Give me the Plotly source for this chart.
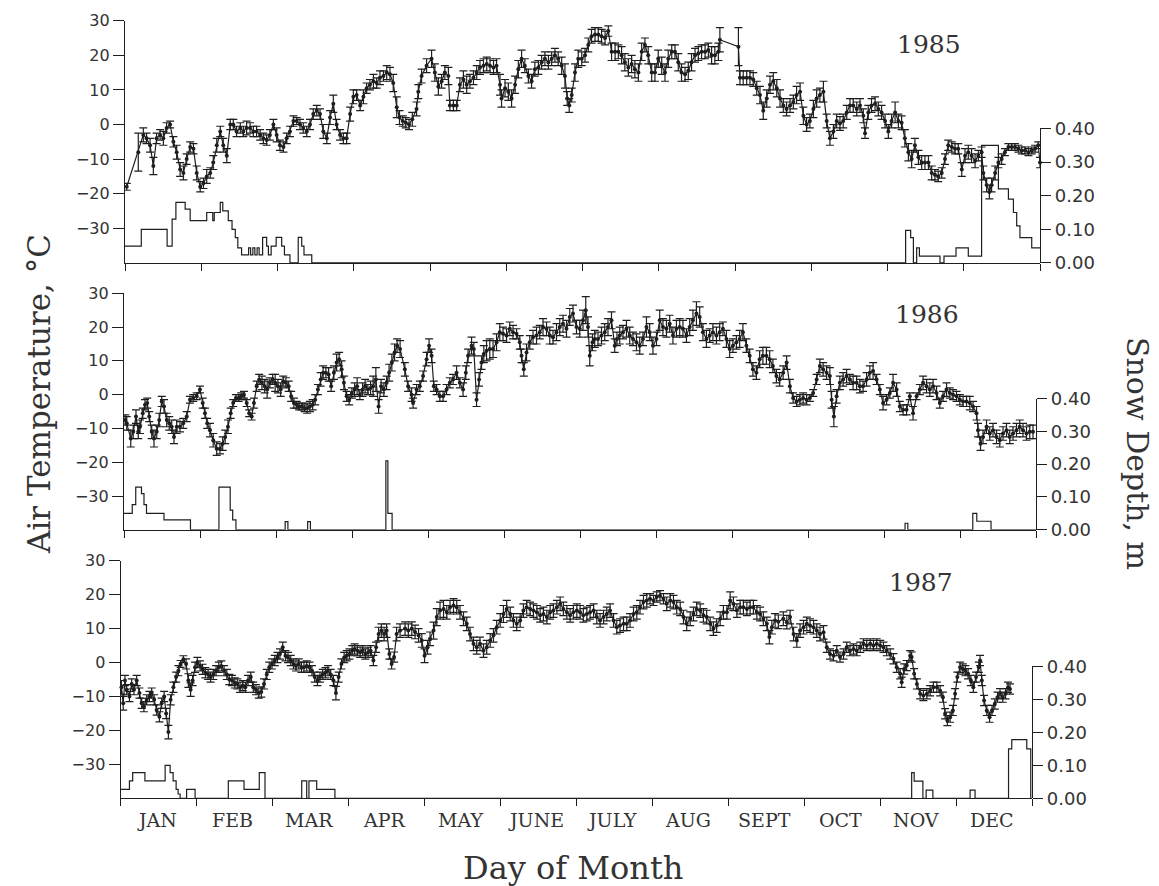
import plotly.graph_objects as go

W, H = 1159, 886
INK = "#1e1e1e"
TXT = "#333333"

MONTHS = ["JAN", "FEB", "MAR", "APR", "MAY", "JUNE",
          "JULY", "AUG", "SEPT", "OCT", "NOV", "DEC"]
YEARS = ["1985", "1986", "1987"]
TEMP_TICKS = [-30, -20, -10, 0, 10, 20, 30]
TEMP_TICK_TEXT = ["\u221230", "\u221220", "\u221210", "0", "10", "20", "30"]
SNOW_TICKS = [0.0, 0.1, 0.2, 0.3, 0.4]
SNOW_TICK_TEXT = ["0.00", "0.10", "0.20", "0.30", "0.40"]

# ---------------- 1985: daily mean air temperature (degC) ----------------
DAY_1985 = [
    0.7, 5.3, 7.3, 8.6, 10, 11.3, 12.6, 14, 15.3, 16.6,
    18, 19.3, 20.6, 22, 23.3, 24.6, 26, 27.3, 28.6, 30,
    31.3, 32.6, 34, 35.2, 36.6, 38, 39.2, 40.6, 42, 43.2,
    44.5, 46, 47.2, 48.5, 49.9, 51.2, 52.5, 53.9, 55.2, 56.5,
    57.8, 59.2, 60.5, 61.8, 63.2, 64.5, 65.8, 67.2, 68.5, 69.8,
    71.1, 72.5, 73.8, 75.1, 76.5, 77.8, 79.1, 80.5, 81.8, 83.1,
    84.4, 85.8, 87.1, 88.4, 89.8, 91.1, 92.4, 93.8, 95.1, 96.4,
    97.7, 99.1, 100.4, 101.7, 103.1, 104.4, 105.7, 107, 108.4, 109.5,
    110.8, 112, 113.3, 114.6, 116.3, 117, 118.3, 120.3, 122.3, 123.6,
    125, 126.3, 127.6, 129, 129.6, 131, 132.3, 133.6, 135, 136.3,
    137.6, 139, 140.3, 141.6, 143, 144.3, 145.6, 147, 148.2, 149.6,
    150.2, 151.6, 152.9, 154.2, 155.6, 156.9, 158.2, 159.5, 160.9, 162.2,
    163.5, 164.9, 166.2, 167.5, 168.9, 170.2, 171.5, 172.8, 174.2, 175.5,
    176.4, 177.2, 178.2, 179.5, 180.8, 182.2, 183.5, 184.8, 186.1, 187.5,
    188.8, 190.1, 191.5, 192.8, 194.1, 195.5, 196.8, 198.1, 199.4, 200.8,
    202.1, 203.4, 204.8, 206.1, 207.4, 208.7, 210.1, 211.4, 212.7, 214.1,
    215.4, 216.7, 218.1, 219.4, 220.7, 222, 223.4, 224.7, 226, 227.4,
    228.7, 230, 231.4, 232.7, 234, 235.3, 236.7, 237.3, 244.7, 245.3,
    246.6, 248, 249.3, 250.6, 252, 253.3, 254.6, 256, 257.3, 258.6,
    260, 261.3, 262.6, 263.9, 265.3, 266.6, 267.9, 269.3, 270.6, 271.9,
    273.2, 274.6, 275.9, 277.2, 278.6, 279.9, 281.2, 282.6, 283.9, 285.2,
    286.5, 287.9, 289.2, 290.5, 291.9, 293.2, 294.5, 295.2, 296.5, 297.8,
    299.2, 300.5, 301.8, 303.2, 304.5, 305.8, 307.2, 308.5, 309.8, 311.1,
    312.5, 313.8, 315.1, 316.5, 317.8, 319.1, 320.5, 321.8, 323.1, 324.4,
    325.8, 327.1, 328.4, 329.8, 331.1, 332.4, 333.8, 335.1, 336.4, 337.7,
    339.1, 340.4, 341.7, 342.4, 343.7, 344.8, 345.7, 347.1, 348.4, 349.7,
    351, 352.4, 353.7, 355, 356.4, 357.7, 359, 360.4, 361.7, 363,
    364.3, 365,
]
TEMP_1985 = [
    -18, -8, -3, -4, -6, -12, -4, -3, -4, -1,
    0, -5, -8, -13, -14, -10, -6.5, -7, -14, -18,
    -17, -15, -14, -11, -6, -2, -6, -9, 0, 0,
    -2, -1, -2, -1, -1, -2, -2, -3, -4, -4.5,
    -3, 0, -3, -6, -6.5, -4, -2, 1, 1, 0,
    -1, -2, 0, 3, 4, 3, -2, -4, 2, 6,
    0, -3, -4, -4, 3, 8, 8.5, 5.5, 8, 10.5,
    11.5, 12.5, 12, 13.5, 14, 15, 14.5, 12, 5, 2,
    1, 0.5, 0, 1.5, 4.5, 9.5, 14, 17, 19, 15,
    11, 12.5, 15, 14, 5.5, 5.5, 5.5, 11.5, 13, 11.5,
    12.5, 13.5, 15, 16.5, 17, 17.5, 17, 16.5, 17, 11.5,
    7.5, 10.5, 9.5, 7.5, 11.5, 16, 19, 17, 14, 12.5,
    16, 16.5, 18, 19, 18, 19, 20, 19, 17, 14,
    7.5, 5.5, 8.5, 15, 19, 19, 20, 23, 25.5, 26,
    26, 25.5, 25, 27, 21, 21, 21, 20, 18, 16.5,
    17.5, 16, 15, 21, 23, 20, 15, 15, 19, 17,
    15, 19, 21, 21, 18, 15, 14.5, 15.5, 18, 20,
    20.5, 21, 21, 21.5, 20, 20, 21, 24.5, 22.5, 13.5,
    13.5, 13.5, 13.5, 13, 10.5, 8.5, 4, 7.5, 11.5, 12.5,
    10.5, 7.5, 5.5, 4.5, 5.5, 6.5, 8.5, 9.5, 2.5, 0,
    1, 4.5, 7.5, 8.5, 9.5, 1, -4, -2, 1, 0.3,
    1, 3.5, 5.5, 5.5, 4.5, 5.5, 2.5, -2.5, 3.5, 5.5,
    6, 4.5, 3.5, 1, -2, 1, 3.5, 1, 0.5, -4,
    -8, -10, -6, -9.5, -11, -11, -11, -14, -14.5, -15,
    -14, -10, -6, -6.5, -7, -7, -13, -9, -8, -9,
    -10.5, -9, -8, -14, -17.5, -19.5, -17.5, -14, -11, -10,
    -8, -6.5, -6.5, -6.5, -7, -7.5, -7.5, -8, -7.5, -7,
    -6, -11,
]
ERR_1985 = [
    1, 5.5, 2, 1.5, 2, 2.5, 1.5, 1.5, 2, 1.5,
    1, 1.5, 2, 2, 2, 1.5, 1.5, 1.5, 2, 1.5,
    1.5, 2, 1.5, 2, 2, 1.5, 2, 2, 1.5, 1.5,
    1.5, 1.5, 1.5, 2, 1.5, 1.5, 1.5, 1.5, 1.5, 1.5,
    1.5, 1.5, 2, 1.5, 1.5, 1.5, 1.5, 1.5, 1, 1.5,
    1.5, 1.5, 1.5, 1.5, 1.5, 1.5, 2, 1.5, 2, 2.5,
    1.5, 1.5, 1.5, 1.5, 2, 2, 1.5, 1.5, 2, 1.5,
    1.5, 2, 1.5, 2, 1.5, 2, 2, 2.5, 3, 2,
    1.5, 1.5, 1.5, 2, 2, 2, 2, 2, 2.5, 2.5,
    2.5, 2, 2, 2.5, 1.5, 1.5, 1.5, 2, 2.5, 2.5,
    2, 2, 2, 2, 2, 2, 2, 2, 2, 3,
    2.5, 2.5, 2.5, 2.5, 2.5, 2.5, 2.5, 2, 2, 2,
    2, 2, 2, 2, 2, 2, 2, 2, 2.5, 3.5,
    2, 2, 2, 2.5, 2.5, 2, 2, 2, 2, 2,
    2, 2, 2, 1.5, 2.5, 2.5, 2, 2.5, 2.5, 2.5,
    2.5, 2.5, 2.5, 2.5, 2, 2.5, 2.5, 2.5, 2.5, 2.5,
    2.5, 2.5, 2, 2, 2.5, 2.5, 2, 2.5, 2.5, 2,
    2, 2, 2, 2, 2.5, 2.5, 2.5, 3.5, 5.5, 2,
    2, 2, 2, 2, 2, 2.5, 2.5, 2.5, 2.5, 2.5,
    2.5, 2.5, 2, 2, 2, 2, 2.5, 2.5, 2.5, 2,
    2, 2.5, 2.5, 2, 3, 2, 2, 2, 2, 2,
    2, 2, 2, 2, 2, 2, 2, 1.5, 2, 2,
    2, 2, 2, 2, 2, 2, 3, 2, 2, 2.5,
    2.5, 2.5, 2, 2, 2, 2, 2, 2, 1.5, 1.5,
    1.5, 1.5, 1.5, 1.5, 1.5, 1.5, 2, 2, 2, 2,
    2, 1.5, 1.5, 2, 2, 2, 2, 2, 1.5, 1.5,
    1, 1, 1, 1, 1, 1, 1, 1, 1, 1,
    1, 1.5,
]
# snow depth (m), step changes: day on which each depth starts
SNOW_DAY_1985 = [
    0, 6.5, 16.8, 18.8, 20.3, 24, 26, 32.6, 35, 35.6,
    38, 39, 41.2, 42.7, 44, 45, 46.5, 49.3, 50.1, 51.0,
    51.8, 52.7, 53.5, 54.9, 56.5, 57.2, 58.3, 60.3, 62.5, 63.6,
    65.8, 69.1, 70.5, 71.4, 74.5, 311.4, 313.4, 314.5, 315.8, 316.9,
    325.1, 326.7, 331.5, 336.4, 341.7, 348.4, 352.4, 354.4, 355.7, 357,
    361.7, 365,
]
SNOW_1985 = [
    0.05, 0.10, 0.05, 0.13, 0.18, 0.16, 0.126, 0.15, 0.126, 0.15,
    0.18, 0.155, 0.126, 0.10, 0.075, 0.045, 0.024, 0.045, 0.024, 0.045,
    0.024, 0.045, 0.024, 0.076, 0.05, 0.024, 0.05, 0.076, 0.05, 0.024,
    0.0, 0.076, 0.05, 0.024, 0.0, 0.097, 0.075, 0.0, 0.045, 0.02,
    0.0, 0.02, 0.045, 0.02, 0.35, 0.22, 0.19, 0.15, 0.11, 0.075,
    0.045, 0.045,
]

# ---------------- 1986 ----------------
DAY_1986 = [
    0.5, 1.1, 2.7, 3.7, 4.8, 5.7, 6.4, 7.5, 8.4, 9.3,
    10.1, 11.1, 12, 13.1, 14.1, 15.1, 16, 17.1, 18.1, 19.1,
    20, 21.1, 22.4, 23.7, 25.1, 26.4, 27.7, 29.1, 30.4, 31.5,
    32.4, 33.3, 34.4, 35.7, 37.1, 38.4, 39.5, 40.5, 41.6, 42.7,
    43.7, 44.8, 45.9, 46.9, 48, 49.1, 50.1, 51.1, 52, 53.1,
    54.1, 55.2, 56.3, 57.3, 58.4, 59.5, 60.5, 61.6, 62.7, 63.7,
    64.8, 65.9, 66.9, 68, 69.1, 70.1, 71.2, 72.3, 73.3, 74.4,
    75.5, 76.5, 77.6, 78.7, 79.7, 80.8, 81.9, 82.9, 84, 85.1,
    86.1, 87.1, 88, 89.1, 90.1, 91.2, 92.3, 93.3, 94.4, 95.5,
    96.5, 97.6, 98.7, 99.7, 100.8, 101.9, 102.9, 104, 105.1, 106.1,
    107.2, 108.3, 109.3, 110.5, 112.4, 113.7, 115.1, 115.7, 117.1, 118.4,
    119.7, 121.1, 122.1, 123.1, 124, 125.1, 126.4, 127.7, 129.1, 130.4,
    131.7, 133.1, 134.4, 135.7, 136.8, 137.7, 139.1, 140, 141.1, 142.1,
    143.1, 144, 145.1, 146.4, 147.7, 149.1, 150.4, 151.7, 153.1, 154.4,
    155.7, 157.1, 158.4, 159.1, 160, 161.1, 162.4, 163.7, 165.1, 166.4,
    167.7, 169.1, 170.4, 171.7, 173.1, 174.4, 175.7, 177.1, 178.4, 179.7,
    181.1, 182.4, 183.7, 184.8, 185.7, 186.4, 187.5, 188.4, 189.7, 191.1,
    192.4, 193.7, 195.1, 196.4, 197.3, 198.4, 199.7, 201.1, 202.4, 203.7,
    205.1, 206.4, 207.7, 209.1, 210.4, 211.7, 213.1, 214.4, 215.7, 217.1,
    218.4, 219.7, 221.1, 222.4, 223.7, 225.1, 226.4, 227.7, 229.1, 230.4,
    231.7, 233.1, 234.4, 235.7, 237.1, 238.4, 239.7, 241.1, 242.4, 243.7,
    245.1, 246.4, 247.7, 249.1, 250.4, 251.7, 253.1, 254.4, 255.7, 257.1,
    258.4, 259.7, 261.1, 262.4, 263.8, 265.2, 266.5, 267.8, 269.2, 270.5,
    271.8, 273.2, 274.5, 275.8, 277.2, 278.5, 279.8, 281.2, 282.5, 283.2,
    284.1, 285.2, 286.5, 287.8, 289.2, 290.5, 291.8, 293.2, 294.5, 295.8,
    297.2, 298.5, 299.8, 301.2, 302.5, 303.8, 305.2, 306.5, 307.8, 309.2,
    310.5, 311.8, 313.2, 314.5, 315.8, 317.2, 318.5, 319.8, 321.2, 322.5,
    323.8, 325.2, 326.5, 327.8, 329.2, 330.5, 331.8, 333.2, 334.5, 335.8,
    337.2, 338.5, 339.8, 341.2, 341.8, 342.8, 343.8, 345.2, 346.5, 347.8,
    349.2, 350.5, 351.8, 353.2, 354.5, 355.8, 357.2, 358.5, 359.8, 361.2,
    362.5, 363.8,
]
TEMP_1986 = [
    -7.5, -8.5, -13, -11, -6.5, -11, -9.5, -5.5, -3, -2.5,
    -6.5, -11, -13, -11, -7.5, -2, -3.5, -7.5, -8.5, -9.5,
    -12.5, -9.5, -9.5, -8.5, -6.5, -1.5, -1, -0.5, 1.5, -2.5,
    -5.5, -8.5, -10.5, -13.5, -16, -16, -14.5, -12.5, -9.5, -5.5,
    -2.5, -1, -1, -0.5, 0, -2.5, -5.5, -6.5, -2.5, 2.5,
    4.5, 3.5, 2.5, 1.5, 3.5, 4.5, 3.5, 2.5, 1.5, 4,
    3.5, 2.5, -0.5, -2.5, -3, -3.5, -3.5, -4, -4, -3.5,
    -3, -1.5, 1.5, 4.5, 6.5, 6.5, 6, 2.5, 6.5, 9.5,
    10.5, 7.5, 3.5, -0.5, -1.5, 0.5, 1.5, 2.5, 0, 1.5,
    2.5, 1.5, 2, 2.5, 4.5, -3.5, 2.5, 1.5, 3.5, 6.5,
    9.5, 12.5, 14.5, 13.5, 7.5, 2.5, 0, -2.5, 1.5, 2.5,
    5.5, 10.5, 14.5, 11.5, 2.5, 1.5, -0.5, -0.5, 1.5, 3.5,
    4.5, 6.5, 3.5, 1.5, 6.5, 11.5, 14.5, 13.5, -1.5, 4.5,
    9.5, 12, 13, 13.5, 13.5, 15.5, 18.5, 18, 17.5, 19.5,
    18.5, 18, 15.5, 11.5, 7.5, 12.5, 15.5, 17, 17.5, 18.5,
    20, 19.5, 17.5, 17, 18.5, 20, 21, 19.5, 23, 24,
    20, 19.5, 22, 25, 20, 11.5, 15.5, 16.5, 16.5, 17.5,
    18.5, 20, 22, 14.5, 16.5, 17.5, 18.5, 19.5, 17.5, 16.5,
    15.5, 14.5, 16.5, 20, 18.5, 14.5, 16.5, 22, 20, 19.5,
    21, 17.5, 19.5, 20, 19.5, 17.5, 20, 22, 24, 23,
    18.5, 16.5, 17.5, 18.5, 17.5, 18.5, 19.5, 16.5, 13.5, 14.5,
    15.5, 16.5, 18.5, 14.5, 11.5, 7.5, 6.5, 10.5, 11.5, 11.5,
    10.5, 8.5, 5.5, 4.5, 6.5, 9.5, 2.5, -1, -2, -1.5,
    -1, -1.5, -1, 0.5, 4.5, 8.5, 7.5, 6.5, 5.5, -1.5,
    -6.5, -0.5, 3.5, 4.5, 5.5, 4.5, 3.5, 3.5, 2.5, 2.5,
    4.5, 6.5, 7, 4.5, 1.5, -2.5, -1.5, 0.5, 3.5, 1.5,
    -3.5, -4.5, -4.5, -0.5, -5.5, -0.5, 1.5, 3.5, 2.5, 1.5,
    2.5, 0.5, -2.5, -0.5, 1.5, 0.5, 0, -0.5, -1.5, -2,
    -2, -2.5, -3.5, -5.5, -10.5, -14.5, -12.5, -9.5, -11.5, -10.5,
    -12.5, -13.5, -11.5, -10.5, -12.5, -11.5, -10.5, -9.5, -10.5, -11.5,
    -11, -11,
]
ERR_1986 = [
    1.5, 2, 2.5, 2, 2, 2, 2, 1.5, 1.5, 1.5,
    1.5, 2, 2.5, 2, 2, 1.5, 2, 2, 2, 2,
    2, 2, 1.5, 1.5, 1.5, 1, 1, 1, 1, 1.5,
    1.5, 1.5, 2, 2, 2, 1.5, 2, 2, 2, 1.5,
    1, 1, 1, 1, 1, 1, 1, 1, 1.5, 1.5,
    1.5, 2, 2, 2.5, 1.5, 1.5, 2.5, 2, 2, 1.5,
    1.5, 1.5, 1.5, 1.5, 1, 1, 1, 1, 1.5, 1.5,
    1.5, 1.5, 1.5, 2, 2, 1.5, 2, 1.5, 2, 2.5,
    2, 2.5, 2, 1.5, 1.5, 1.5, 2, 2.5, 1.5, 2,
    2, 1.5, 2, 3, 3.5, 2, 2, 2, 2, 2.5,
    2.5, 2.5, 2, 2.5, 2, 1.5, 2, 1.5, 1.5, 1.5,
    1.5, 2, 2, 2, 1.5, 1.5, 1.5, 1.5, 1.5, 1.5,
    1.5, 2, 1.5, 2, 2, 2, 2.5, 2, 2, 2,
    2, 2.5, 3, 3, 2.5, 2.5, 2.5, 2, 2, 2,
    2, 1.5, 2, 2, 2, 2.5, 2, 2, 2.5, 2,
    2.5, 2, 2.5, 2, 2.5, 2.5, 2.5, 2.5, 2.5, 2.5,
    2, 2.5, 3, 4, 3, 3, 2.5, 2.5, 2, 2.5,
    2.5, 2.5, 2.5, 2, 2, 2.5, 2, 2.5, 2.5, 2,
    2.5, 2.5, 2, 3, 2.5, 2.5, 2, 3, 2.5, 2.5,
    2.5, 2.5, 2.5, 2.5, 2.5, 2, 2.5, 3, 3.5, 3,
    2.5, 2.5, 2, 2.5, 2.5, 2.5, 2, 2.5, 2.5, 2,
    2, 2.5, 2.5, 2, 2, 2, 2, 2.5, 2.5, 2.5,
    2.5, 2, 2, 2, 2, 2, 2, 1.5, 1.5, 1.5,
    1.5, 1.5, 1, 1, 1.5, 2, 2, 2, 2.5, 2.5,
    3, 2, 2, 2, 2, 1.5, 2, 2, 2, 1.5,
    2, 2, 2.5, 1.5, 1.5, 2, 1.5, 1.5, 2.5, 2,
    1.5, 1.5, 1.5, 1, 2, 1, 1.5, 2, 2, 2,
    2, 2, 1.5, 1.5, 2, 1.5, 1.5, 1.5, 1.5, 1.5,
    1.5, 2, 1.5, 2, 2, 2, 2, 2, 2, 2,
    2, 2, 2, 2, 2, 2, 2, 2, 2, 2,
    2, 2,
]
SNOW_DAY_1986 = [
    0, 3.3, 4.7, 7, 8, 9, 16, 26.6, 38, 42.5,
    43.5, 44.8, 64.5, 65.6, 73.5, 74.6, 104.8, 105.6, 107.3, 312.6,
    313.7, 339.7, 341.3, 347, 365,
]
SNOW_1986 = [
    0.05, 0.077, 0.13, 0.11, 0.077, 0.05, 0.03, 0.0, 0.13, 0.06,
    0.03, 0.0, 0.025, 0.0, 0.025, 0.0, 0.21, 0.05, 0.0, 0.02,
    0.0, 0.05, 0.026, 0.0, 0.0,
]

# ---------------- 1987 ----------------
DAY_1987 = [
    0.3, 1.0, 1.7, 2.4, 3.5, 4.4, 5.3, 6.4, 7.5, 8.4,
    9.3, 10.4, 11.5, 12.4, 13.4, 14.4, 15.5, 16.4, 17.4, 18.2,
    19.1, 20, 21.1, 22.2, 23.1, 24, 25.1, 26.2, 27.1, 28,
    28.8, 29.8, 30.7, 31.8, 32.8, 33.9, 35, 36, 37.1, 38.2,
    39.3, 40.3, 41.4, 42.5, 43.5, 44.6, 45.7, 46.7, 47.8, 48.9,
    49.9, 51, 52.1, 53.1, 54.2, 55.3, 56.3, 57.4, 58.5, 59.5,
    60.6, 61.7, 62.8, 63.8, 64.9, 66, 67, 68.1, 69.2, 70.2,
    71.3, 72.4, 73.4, 74.5, 75.6, 76.6, 77.7, 78.8, 79.8, 80.9,
    82, 83, 84.1, 85.2, 86.2, 87.3, 88.4, 89.5, 90.5, 91.6,
    92.7, 93.7, 94.8, 95.9, 96.9, 98, 99.1, 100.1, 101.2, 102.3,
    103.3, 104.4, 105.5, 106.5, 107.6, 108.5, 109.5, 110.5, 111.9, 113.9,
    115.2, 116.6, 117.9, 119.3, 120.6, 121.7, 122.9, 123.9, 125.3, 126.6,
    127.9, 129.3, 130.6, 131.9, 133.3, 134.6, 135.9, 137.3, 138.6, 139.9,
    141.3, 142.6, 143.9, 145.3, 146.6, 148, 149.3, 150.6, 152, 153.3,
    154.6, 156, 157.3, 158.6, 160, 161.3, 162.6, 164, 165.3, 166.7,
    168, 169.3, 170.7, 172, 173.3, 174.7, 176, 177.3, 178.7, 180,
    181.3, 182.7, 184, 185.3, 186.7, 188, 189.4, 190.7, 192, 193.4,
    194.7, 196, 197.4, 198.7, 200, 201.4, 202.7, 204, 205.4, 206.7,
    208, 209.4, 210.7, 212, 213.4, 214.7, 216, 217.4, 218.7, 220.1,
    221.4, 222.7, 224.1, 225.4, 226.7, 228.1, 229.4, 230.7, 232.1, 233.4,
    234.7, 236.1, 237.4, 238.7, 240.1, 241.4, 242.8, 244.1, 245.4, 246.8,
    248.1, 249.4, 250.8, 252.1, 253.4, 254.8, 256.1, 257.4, 258.8, 259.8,
    260.8, 262.1, 263.4, 265.4, 266.8, 268.1, 269.5, 270.8, 272.1, 273.5,
    274.8, 276.1, 277.5, 278.8, 280.1, 281.5, 282.8, 284.1, 285.5, 286.8,
    288.1, 289.5, 290.8, 292.1, 293.5, 294.8, 296.2, 297.5, 298.8, 300.2,
    301.5, 302.8, 304.2, 305.5, 306.8, 308.2, 309.5, 310.8, 312.2, 312.8,
    313.8, 314.8, 316.2, 316.8, 317.8, 318.9, 320.2, 321.5, 322.9, 324.2,
    325.5, 326.9, 328.2, 329.3, 330.2, 331.1, 332.2, 333.3, 334.2, 335.1,
    336.2, 337.3, 338.3, 339.4, 340.5, 341.5, 342.6, 343.7, 344.2, 344.9,
    345.8, 346.9, 348, 349, 350.1, 351.2, 352.2, 353.3, 354.4, 355.4,
    356.2,
]
TEMP_1987 = [
    -7.3, -12, -5.3, -8, -10, -6.3, -8, -5.3, -9, -12,
    -13, -11, -10, -9, -11, -14, -16, -12, -10, -15,
    -20.5, -11, -7.3, -4.3, -2.4, -0.4, 1, -0.4, -5.3, -8,
    -5.3, -1.4, 0, -1, -2, -3, -3.5, -4.3, -3.5, -2.4,
    -1.4, -1, -2.4, -3.5, -5, -5.3, -6, -6.3, -7.3, -6.8,
    -7.3, -5.3, -4.3, -7.3, -8, -9, -8.7, -6.3, -3.5, -1.4,
    -0.4, 0.6, 1.5, 2.5, 4.5, 2, 1.5, 0.6, -0.4, -1,
    -0.4, -1.4, -1.4, -1, -1.4, -2.4, -4.3, -5.3, -4.3, -3.5,
    -3, -2.4, -3.5, -5.3, -9, -4.3, -0.4, 1.5, 2, 2.5,
    3.5, 4, 3.5, 3, 3.5, 2.5, 3, 3.5, 0.6, 4.5,
    8.4, 9.4, 8.4, 9.4, 2.5, -0.4, 1.6, 8.4, 9.4, 10,
    9.4, 10, 9, 8, 6.5, 2, 4.5, 7, 9.4, 13.4,
    15.3, 15.8, 14.8, 16.3, 16.8, 16.3, 14.8, 12.9, 11.4, 8.4,
    5.5, 4.5, 5.5, 3.5, 4.5, 6.5, 8, 10.4, 12.4, 14.3,
    15.8, 14.3, 12.4, 11.4, 12.4, 15.3, 16.3, 15.8, 15.3, 14.8,
    13.9, 14.3, 13.4, 14.8, 15.3, 16.3, 17.3, 15.8, 14.8, 13.9,
    14.8, 15.3, 14.8, 13.9, 14.3, 14.8, 15.3, 13.4, 12.4, 13.4,
    14.3, 15.3, 12.4, 10.4, 10.9, 11.4, 11.4, 12.4, 14.3, 14.8,
    16.3, 17.8, 18.3, 18.8, 18.3, 19.3, 19.7, 18.8, 17.3, 18.3,
    17.8, 16.3, 15.8, 13.4, 11.4, 12.9, 14.3, 15.8, 15.3, 13.9,
    13.4, 11.4, 10, 10.9, 12.9, 14.8, 14.8, 18.3, 17.3, 15.3,
    16.3, 16.3, 15.8, 16.3, 16.3, 14.8, 14.3, 12.9, 11.4, 7.5,
    10.4, 12.4, 12, 12.9, 11.9, 13.4, 8.4, 6.5, 9.4, 10.4,
    11.4, 10.9, 10.4, 9.4, 8.4, 8.9, 4.5, 2.5, 2, 3.5,
    1.6, 2.5, 4.5, 3.5, 4, 3.5, 4.5, 5.5, 5, 5.5,
    5, 5.5, 5, 4.5, 3.5, 2.5, 1.1, -1.4, -3.3, -5.8,
    -1.9, -0.9, 2, 1.6, -3.3, -6.3, -9.2, -9.7, -9.2, -8.3,
    -7.3, -7.3, -8.3, -10.2, -15.1, -17.1, -16.1, -14.1, -9.2, -4.3,
    -1.4, -1.9, -2.4, -3.3, -5.3, -7.3, -4.3, -1.4, 0.6, -5.3,
    -11.2, -14.1, -16.1, -14.1, -12.2, -10.2, -9.2, -10.2, -9.2, -7.3,
    -7.8,
]
ERR_1987 = [
    2, 2, 1.5, 1.5, 1.5, 1.5, 1.5, 1.5, 1.5, 1.5,
    1.5, 1.5, 1.5, 1.5, 1.5, 1.5, 1.5, 1.5, 1.5, 1.5,
    2, 1.5, 1.5, 1.5, 1.5, 1, 1, 1.5, 2, 2,
    1.5, 1.5, 1.5, 1.5, 1.5, 1.5, 1.5, 1.5, 1.5, 1.5,
    1.5, 1.5, 1.5, 1.5, 1.5, 1.5, 1.5, 1.5, 1.5, 1.5,
    1.5, 1.5, 1.5, 1.5, 1.5, 1.5, 1.5, 1.5, 1.5, 1.5,
    1.5, 1.5, 1.5, 1.5, 1.5, 1.5, 1.5, 1.5, 1.5, 1.5,
    1.5, 1.5, 1.5, 1.5, 1.5, 1.5, 1.5, 1.5, 1.5, 1.5,
    1.5, 1.5, 1.5, 1.5, 2, 1.5, 1.5, 1.5, 1.5, 1.5,
    1.5, 1.5, 1.5, 1.5, 1.5, 1.5, 1.5, 1.5, 1.5, 1.5,
    2, 2, 2, 2, 1.5, 1.5, 1.5, 2, 2, 2,
    2, 2, 2, 2, 2, 2, 2, 2, 2.5, 2.5,
    2.5, 2.5, 2, 2, 2, 2, 2, 2, 2, 2,
    2, 2, 2, 2, 2, 2, 2, 2, 2, 2.5,
    2.5, 2, 2, 2, 2, 2, 2, 2, 2, 2,
    2, 2, 2, 2, 2, 2, 2, 2, 2, 2,
    2, 2, 2, 2, 2, 2, 2, 2, 2, 2,
    2, 2, 2, 2, 2, 2, 2, 2, 2, 2,
    2, 2, 2, 1.5, 1.5, 1.5, 1.5, 1.5, 2, 2,
    2, 2, 2, 2, 2, 2, 2, 2, 2, 2,
    2, 2, 2, 2, 2, 2, 2, 2.5, 2, 2,
    2, 2, 2, 2, 2, 2, 2, 2, 2, 2,
    2, 2, 2, 2, 2, 2, 2, 2, 2, 2,
    2, 2, 2, 2, 2, 2, 1.5, 1.5, 1.5, 1.5,
    1.5, 1.5, 1.5, 1.5, 1.5, 1.5, 1.5, 1.5, 1.5, 1.5,
    1.5, 1.5, 1.5, 1.5, 1.5, 1.5, 1.5, 1.5, 1.5, 1.5,
    1.5, 1.5, 1.5, 1.5, 1.5, 1.5, 1.5, 1.5, 1.5, 1.5,
    1.5, 1.5, 1.5, 1.5, 1.5, 1.5, 1.5, 1.5, 1.5, 1.5,
    1.5, 1.5, 1.5, 1.5, 1.5, 1.5, 1.5, 1.5, 1.5, 1.5,
    1.5, 1.5, 1.5, 1.5, 1.5, 1.5, 1.5, 1.5, 1.5, 1.5,
    1.5,
]
SNOW_DAY_1987 = [
    0, 3.5, 4.8, 9.7, 17.8, 19.8, 21, 22.2, 23, 23.8,
    26.4, 29.8, 43.1, 49.4, 55.5, 57.8, 72.5, 74.5, 75.4, 78.5,
    85.8, 316.8, 317.8, 321.3, 322.6, 325.3, 340.2, 342.2, 355.6, 356.9,
    362.9, 364.5,
]
SNOW_1987 = [
    0.027, 0.053, 0.078, 0.053, 0.10, 0.078, 0.053, 0.027, 0.013, 0.0,
    0.027, 0.0, 0.053, 0.027, 0.078, 0.0, 0.053, 0.0, 0.053, 0.027,
    0.0, 0.078, 0.052, 0.0, 0.025, 0.0, 0.025, 0.0, 0.15, 0.178,
    0.15, 0.0,
]

SERIES = [
    (DAY_1985, TEMP_1985, ERR_1985, SNOW_DAY_1985, SNOW_1985),
    (DAY_1986, TEMP_1986, ERR_1986, SNOW_DAY_1986, SNOW_1986),
    (DAY_1987, TEMP_1987, ERR_1987, SNOW_DAY_1987, SNOW_1987),
]
for d, t, e, sd, s in SERIES:
    assert len(d) == len(t) == len(e), (len(d), len(t), len(e))
    assert len(sd) == len(s), (len(sd), len(s))

# panel frames in pixels: left, right, top, bottom
FRAMES = [
    (125.0, 1040.0, 20.7, 262.9),
    (124.0, 1036.0, 293.3, 529.8),
    (120.7, 1032.0, 560.7, 798.3),
]
SNOW_FRAC = 0.555          # share of panel height used by the 0-0.40 m snow scale
YEAR_LABEL_POS = [(929, 44), (927, 315), (921, 582)]
DAYS_IN_YEAR = 365
MONTH_EDGES = [k * DAYS_IN_YEAR / 12 for k in range(13)]

fig = go.Figure()
layout = dict(
    width=W, height=H, autosize=False,
    margin=dict(l=0, r=0, t=0, b=0, pad=0, autoexpand=False),
    paper_bgcolor="white", plot_bgcolor="rgba(0,0,0,0)",
    showlegend=False,
    font=dict(family="DejaVu Sans", color=TXT),
)

for i, ((days, temp, err, sday, snow), (l, r, t, b)) in enumerate(zip(SERIES, FRAMES), start=1):
    xa, ya, ys = f"x{i}", f"y{i}", f"y{i + 3}"
    fig.add_trace(go.Scatter(
        x=days, y=temp, xaxis=xa, yaxis=ya, mode="lines+markers",
        line=dict(color=INK, width=1.2),
        marker=dict(color=INK, size=4),
        error_y=dict(type="data", array=err, symmetric=True,
                     color=INK, thickness=1.2, width=4),
        cliponaxis=False,
    ))
    fig.add_trace(go.Scatter(
        x=sday, y=snow, xaxis=xa, yaxis=ys, mode="lines",
        line=dict(color=INK, width=1.2, shape="hv"),
    ))

    y0 = 1 - b / H
    y1 = 1 - t / H
    snow_top = y0 + SNOW_FRAC * (y1 - y0)
    layout[f"xaxis{i}"] = dict(
        domain=[l / W, r / W], anchor=ya, range=[0, DAYS_IN_YEAR],
        automargin=False,
        tickmode="array", tickvals=MONTH_EDGES, showticklabels=False,
        ticks="outside", ticklen=7, tickwidth=1.2, tickcolor=INK,
        showline=True, linecolor=INK, linewidth=1.3,
        showgrid=False, zeroline=False,
    )
    layout[f"yaxis{i}"] = dict(
        domain=[y0, y1], anchor=xa, range=[-40, 30],
        automargin=False,
        tickmode="array", tickvals=TEMP_TICKS, ticktext=TEMP_TICK_TEXT,
        ticks="outside", ticklen=11, tickwidth=1.2, tickcolor=INK,
        tickfont=dict(family="DejaVu Sans", size=16, color=TXT),
        showline=True, linecolor=INK, linewidth=1.3,
        showgrid=False, zeroline=False,
    )
    layout[f"yaxis{i + 3}"] = dict(
        domain=[y0, snow_top], anchor=xa, side="right", range=[0, 0.4],
        automargin=False,
        tickmode="array", tickvals=SNOW_TICKS, ticktext=SNOW_TICK_TEXT,
        ticks="outside", ticklen=10, tickwidth=1.2, tickcolor=INK,
        tickfont=dict(family="DejaVu Sans", size=18, color=TXT),
        showline=True, linecolor=INK, linewidth=1.3,
        showgrid=False, zeroline=False,
    )

annotations = []
for year, (px, py) in zip(YEARS, YEAR_LABEL_POS):
    annotations.append(dict(
        text=year, x=px / W, y=1 - py / H, xref="paper", yref="paper",
        showarrow=False, xanchor="center", yanchor="middle",
        font=dict(family="DejaVu Serif", size=25, color=TXT),
    ))
for k, name in enumerate(MONTHS):
    annotations.append(dict(
        text=name, x=(MONTH_EDGES[k] + MONTH_EDGES[k + 1]) / 2, xref="x3",
        y=1 - 820 / H, yref="paper", xshift=-2,
        showarrow=False, xanchor="center", yanchor="middle",
        font=dict(family="DejaVu Serif", size=19, color=TXT),
    ))
annotations += [
    dict(text="Air Temperature, \u00b0C", x=39 / W, y=1 - 394 / H,
         xref="paper", yref="paper", textangle=-90, showarrow=False,
         xanchor="center", yanchor="middle",
         font=dict(family="DejaVu Serif", size=31, color=TXT)),
    dict(text="Snow Depth, m", x=1138 / W, y=1 - 453 / H,
         xref="paper", yref="paper", textangle=90, showarrow=False,
         xanchor="center", yanchor="middle",
         font=dict(family="DejaVu Serif", size=30, color=TXT)),
    dict(text="Day of Month", x=573 / W, y=1 - 868 / H,
         xref="paper", yref="paper", showarrow=False,
         xanchor="center", yanchor="middle",
         font=dict(family="DejaVu Serif", size=32, color=TXT)),
]
layout["annotations"] = annotations

fig.update_layout(**layout)
fig.write_html("out.html")
